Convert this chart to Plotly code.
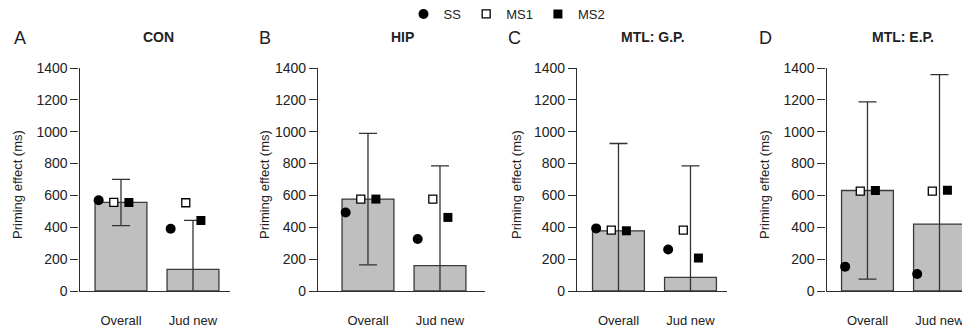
import plotly.graph_objects as go

# ---------------- data ----------------
categories = ["Overall", "Jud new"]
panel_titles = ["CON", "HIP", "MTL: G.P.", "MTL: E.P."]
panel_letters = ["A", "B", "C", "D"]
y_ticks = [0, 200, 400, 600, 800, 1000, 1200, 1400]

con_mean = [556, 136]
con_err = [145, 307]
hip_mean = [577, 159]
hip_err = [413, 627]
gp_mean = [378, 86]
gp_err = [548, 700]
ep_mean = [631, 420]
ep_err = [556, 938]

con_ss = [570, 391]
hip_ss = [493, 326]
gp_ss = [393, 261]
ep_ss = [153, 107]

con_ms1 = [556, 554]
hip_ms1 = [577, 577]
gp_ms1 = [382, 382]
ep_ms1 = [627, 627]

con_ms2 = [556, 443]
hip_ms2 = [577, 462]
gp_ms2 = [378, 207]
ep_ms2 = [631, 633]

means = [con_mean, hip_mean, gp_mean, ep_mean]
errs = [con_err, hip_err, gp_err, ep_err]
ss = [con_ss, hip_ss, gp_ss, ep_ss]
ms1 = [con_ms1, hip_ms1, gp_ms1, ep_ms1]
ms2 = [con_ms2, hip_ms2, gp_ms2, ep_ms2]

# ---------------- layout constants ----------------
W, H = 962, 330
FONT = "Liberation Sans, Arial, sans-serif"
DARK = "#2e2e2e"
x_dom_px = [(79.5, 230), (318, 485), (577, 727), (826.5, 962)]
x_ranges = [(-0.576, 1.514), (-0.694, 1.625), (-0.576, 1.507), (-0.569, 1.3125)]
y_dom = [39 / H, 262 / H]
offsets = {"SS": -0.31, "MS1": -0.10, "MS2": 0.11}
ytitle_px = [18, 265, 517, 765]
letter_px = [20, 265, 514, 765]
title_px = [158, 402, 653, 903]

fig = go.Figure()
idx = [0, 1]

for p in range(4):
    xa = "x" if p == 0 else f"x{p+1}"
    ya = "y" if p == 0 else f"y{p+1}"
    fig.add_trace(go.Bar(
        x=idx, y=means[p], width=0.72, xaxis=xa, yaxis=ya,
        marker=dict(color="#bfbfbf", line=dict(color="#3a3a3a", width=1.3)),
        error_y=dict(type="data", array=errs[p], symmetric=True,
                     color="#333333", thickness=1.3, width=9),
        showlegend=False, hoverinfo="skip",
    ))
    specs = [
        ("SS", ss[p], dict(symbol="circle", size=10, color="black",
                           line=dict(color="black", width=0))),
        ("MS1", ms1[p], dict(symbol="square", size=8, color="white",
                             line=dict(color="black", width=1.3))),
        ("MS2", ms2[p], dict(symbol="square", size=9, color="black",
                             line=dict(color="black", width=0))),
    ]
    for name, vals, mk in specs:
        fig.add_trace(go.Scatter(
            x=[i + offsets[name] for i in idx], y=vals, mode="markers",
            name=name, marker=mk, xaxis=xa, yaxis=ya,
            showlegend=(p == 0), hoverinfo="skip",
        ))

    d0, d1 = x_dom_px[p]
    xkey = "xaxis" if p == 0 else f"xaxis{p+1}"
    ykey = "yaxis" if p == 0 else f"yaxis{p+1}"
    fig.layout[xkey] = dict(
        domain=[d0 / W, d1 / W], range=list(x_ranges[p]), anchor=ya,
        tickvals=idx, ticktext=categories, ticks="", showline=True,
        linecolor=DARK, linewidth=1.3, showgrid=False, zeroline=False,
        tickfont=dict(family=FONT, size=13, color="#222"),
        ticklabelstandoff=17, ticklabeloverflow="allow",
        fixedrange=True, automargin=False,
    )
    fig.layout[ykey] = dict(
        domain=y_dom, range=[0, 1400], anchor=xa,
        tickvals=y_ticks, ticks="outside", ticklen=8, tickcolor=DARK,
        tickwidth=1.3, showline=True, linecolor=DARK, linewidth=1.3,
        showgrid=False, zeroline=False, automargin=False,
        tickfont=dict(family=FONT, size=14, color="#222"), fixedrange=True,
    )
    fig.add_annotation(text="Priming effect (ms)", xref="paper", yref="paper",
                       x=ytitle_px[p] / W, y=(H - 185) / H, textangle=-90,
                       showarrow=False, xanchor="center", yanchor="middle",
                       font=dict(family=FONT, size=13, color="#222"))
    fig.add_annotation(text=panel_letters[p], xref="paper", yref="paper",
                       x=letter_px[p] / W, y=(H - 38) / H, showarrow=False,
                       xanchor="center", yanchor="middle",
                       font=dict(family=FONT, size=18, color="#222"))
    fig.add_annotation(text="<b>" + panel_titles[p] + "</b>", xref="paper",
                       yref="paper", x=title_px[p] / W, y=(H - 37) / H,
                       showarrow=False, xanchor="center", yanchor="middle",
                       font=dict(family=FONT, size=14, color="#222"))

fig.update_layout(
    width=W, height=H, autosize=False,
    margin=dict(l=0, r=0, t=0, b=0, autoexpand=False),
    paper_bgcolor="white", plot_bgcolor="white",
    barmode="overlay",
    legend=dict(orientation="h", x=507 / W, xanchor="center",
                y=(H - 14) / H, yanchor="middle",
                font=dict(family=FONT, size=13, color="#222"),
                bgcolor="rgba(0,0,0,0)", itemclick=False),
)

fig.write_html(
    "out.html",
    config={"displayModeBar": False},
    post_script="document.body.style.margin='0';document.body.style.overflow='hidden';",
)
